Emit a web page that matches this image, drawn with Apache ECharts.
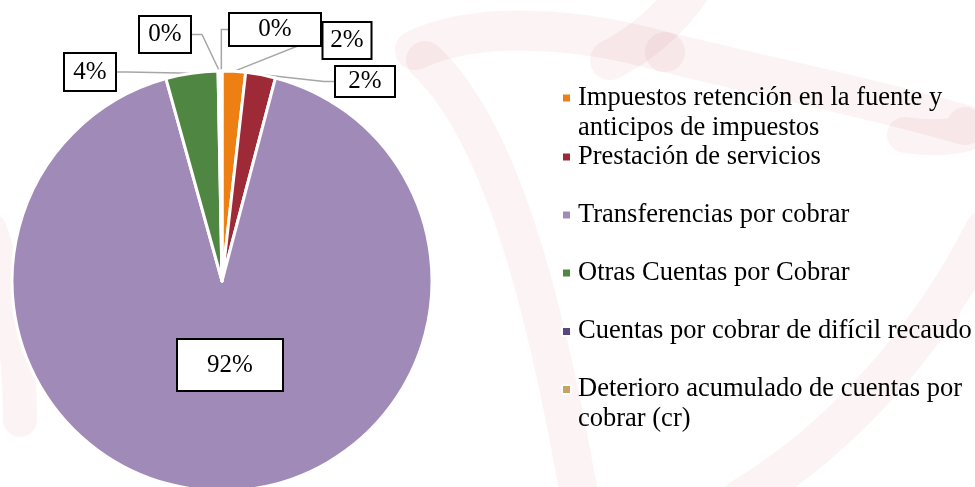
<!DOCTYPE html>
<html><head><meta charset="utf-8">
<script src="https://cdn.jsdelivr.net/npm/echarts@6/dist/echarts.min.js"></script>
<style>html,body{margin:0;padding:0;background:#fff}#c{width:975px;height:487px}</style>
</head><body><div id="c"></div>
<script>
const categories = [
  'Impuestos retención en la fuente y\nanticipos de impuestos',
  'Prestación de servicios',
  'Transferencias por cobrar',
  'Otras Cuentas por Cobrar',
  'Cuentas por cobrar de difícil recaudo',
  'Deterioro acumulado de cuentas por\ncobrar (cr)'
];
const values = [1.8, 2.3, 91.6, 4.0, 0.2, 0.1];
const labelTexts = ['2%', '2%', '92%', '4%', '0%', '0%'];
const colors = ['#EE7F12', '#9E2A38', '#A08AB8', '#4F8642', '#5A4680', '#C9A165'];

// label box placement (centre) and sizes
const labelBoxes = [
  {x: 347, y: 40.5, w: 47, h: 35},
  {x: 365, y: 81.5, w: 58, h: 29},
  {x: 230, y: 365, w: 104, h: 50},
  {x: 90, y: 72, w: 50, h: 36},
  {x: 165, y: 34.5, w: 50, h: 35},
  {x: 275, y: 29.5, w: 90, h: 31}
];
// legend item vertical centres (first line)
const legendCentres = [98, 157, 215, 273, 331.5, 389.5];

const chart = echarts.init(document.getElementById('c'));
const data = categories.map((n, i) => ({
  name: n, value: values[i],
  itemStyle: {color: colors[i]},
  label: {width: labelBoxes[i].w, height: labelBoxes[i].h}
}));

const LH = 30;
const legends = categories.map((n, i) => {
  const twoLine = n.indexOf('\n') >= 0;
  return {
    orient: 'vertical', left: 561, top: legendCentres[i] - (twoLine ? 1.5 * LH : LH / 2),
    padding: 0, itemWidth: 9, itemHeight: 9, icon: 'rect', selectedMode: false,
    data: [n],
    formatter: name => (twoLine ? ' \n' : '') + name,
    textStyle: {fontFamily: 'Liberation Serif', fontSize: 26.5, color: '#000', lineHeight: LH, padding: [0, 0, 0, 2]}
  };
});

// faint background watermark swooshes
const swooshes = [
  {shape: {x1: 415, y1: 50, x2: 665, y2: 52, cpx1: 480, cpy1: 20, cpx2: 580, cpy2: 28}, w: 40},
  {shape: {x1: 665, y1: 52, x2: 965, y2: 125, cpx1: 760, cpy1: 75, cpx2: 880, cpy2: 100}, w: 40},
  {shape: {x1: 965, y1: 125, x2: 905, y2: 135, cpx1: 985, cpy1: 135, cpx2: 940, cpy2: 140}, w: 36},
  {shape: {x1: 425, y1: 60, x2: 580, y2: 500, cpx1: 500, cpy1: 130, cpx2: 545, cpy2: 300}, w: 38},
  {shape: {x1: 690, y1: -10, x2: 610, y2: 60, cpx1: 670, cpy1: 20, cpx2: 640, cpy2: 45}, w: 40},
  {shape: {x1: 985, y1: 230, x2: 740, y2: 500, cpx1: 930, cpy1: 340, cpx2: 840, cpy2: 440}, w: 40},
  {shape: {x1: -10, y1: 230, x2: 20, y2: 420, cpx1: 15, cpy1: 300, cpx2: 20, cpy2: 370}, w: 34}
];

chart.setOption({
  backgroundColor: '#ffffff',
  animation: false,
  graphic: swooshes.map(s => ({
    type: 'bezierCurve', shape: s.shape, z: -10, silent: true,
    style: {stroke: 'rgba(195,45,60,0.06)', lineWidth: s.w, fill: null, lineCap: 'round'}
  })),
  legend: legends,
  series: [{
    type: 'pie',
    center: [222, 281],
    radius: 210,
    startAngle: 90,
    clockwise: true,
    data: data,
    itemStyle: {borderColor: '#fff', borderWidth: 3},
    label: {
      show: true,
      position: 'outside',
      formatter: p => labelTexts[p.dataIndex],
      fontFamily: 'Liberation Serif', fontSize: 25, color: '#000',
      backgroundColor: '#fff', borderColor: '#000', borderWidth: 2,
      align: 'center', verticalAlign: 'middle', padding: 0
    },
    labelLine: {show: true, length: 10, length2: 10, lineStyle: {color: '#A6A6A6', width: 1.5}},
    labelLayout: p => {
      const b = labelBoxes[p.dataIndex];
      return {x: b.x, y: b.y, align: 'center', verticalAlign: 'middle'};
    },
    emphasis: {disabled: true}
  }]
});
</script></body></html>
